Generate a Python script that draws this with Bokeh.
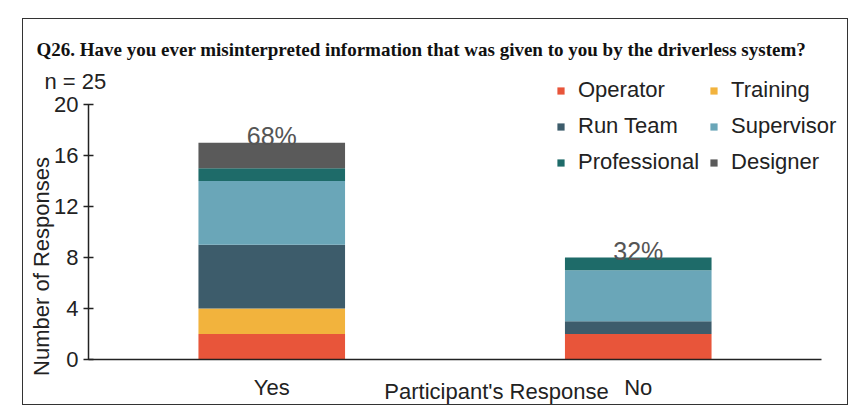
from bokeh.plotting import figure
from bokeh.models import (Range1d, FixedTicker, Label, Legend, LegendItem, ColumnDataSource)
from bokeh.core.properties import value
from bokeh.embed import file_html
from bokeh.resources import INLINE
import math

categories = ["Yes", "No"]
segments = ["Operator", "Training", "Run Team", "Supervisor", "Professional", "Designer"]
operator = [2, 2]
training = [2, 0]
run_team = [5, 1]
supervisor = [5, 4]
professional = [1, 1]
designer = [2, 0]
totals = [17, 8]
percent_labels = ["68%", "32%"]
y_ticks = [0, 4, 8, 12, 16, 20]

colors = ["#E8553A", "#F2B33D", "#3D5C6B", "#6AA6B8", "#1E6B69", "#5A5A5A"]
FONT = "Liberation Sans"
FS = "22px"

# category positions on a numeric axis: one unit per category, bar in the middle
xpos = [i + 0.5 for i in range(len(categories))]
src = ColumnDataSource(dict(x=xpos, cat=categories, Operator=operator, Training=training,
                            **{"Run Team": run_team}, Supervisor=supervisor,
                            Professional=professional, Designer=designer,
                            total=totals, pct=percent_labels))

# layout: canvas W x H; axis box inside the canvas (pixels from canvas top-left)
W, H = 826, 387
AX_L, AX_R, AX_T, AX_B = 65, 798, 85, 340
ymax = y_ticks[-1]
xmax = len(categories)
xu = (AX_R - AX_L) / xmax
yu = (AX_B - AX_T) / ymax
x_range = Range1d(-AX_L / xu, xmax + (W - AX_R) / xu)
y_range = Range1d(-(H - AX_B) / yu, ymax + AX_T / yu)

p = figure(width=W, height=H, x_range=x_range, y_range=y_range,
           output_backend="svg", toolbar_location=None,
           min_border=0, min_border_left=0, min_border_right=0, min_border_top=0,
           min_border_bottom=0, margin=(18, 0, 0, 22))
p.styles = {"border": "1.5px solid #333"}
p.outline_line_color = None
p.xgrid.grid_line_color = None
p.ygrid.grid_line_color = None

rs = p.vbar_stack(segments, x="x", width=0.4, color=colors, source=src, line_color=None)

pct = p.text(x="x", y="total", text="pct", source=src, text_align="center",
             text_baseline="bottom", y_offset=7, text_font=value(FONT),
             text_font_size="25px", text_color="#555555")
pct.level = "overlay"

p.yaxis.fixed_location = 0
p.yaxis.bounds = (0, ymax)
p.yaxis.ticker = FixedTicker(ticks=y_ticks)
p.yaxis.minor_tick_line_color = None
p.yaxis.major_tick_in = 5
p.yaxis.major_tick_out = 5
p.yaxis.major_label_standoff = 5

p.xaxis.fixed_location = 0
p.xaxis.bounds = (0, xmax)
p.xaxis.ticker = FixedTicker(ticks=xpos)
p.xaxis.major_label_overrides = {xv: c for xv, c in zip(xpos, categories)}
p.xaxis.minor_tick_line_color = None
p.xaxis.major_tick_line_color = None
p.xaxis.major_label_standoff = 9
for ax in (p.xaxis, p.yaxis):
    ax.axis_line_color = "#222222"
    ax.axis_line_width = 1.5
    ax.major_tick_line_width = 1.5
    ax.major_label_text_font = FONT
    ax.major_label_text_font_size = FS
    ax.major_label_text_color = "#222222"
p.yaxis.major_tick_line_color = "#222222"

ordered = [0, 2, 4, 1, 3, 5]
items = [LegendItem(label=segments[i], renderers=[rs[i]]) for i in ordered]
leg = Legend(items=items, ncols=2, location=(533, 231), orientation="vertical",
             glyph_width=9, glyph_height=9, label_standoff=13, spacing=10, label_height=20,
             label_text_font=FONT, label_text_font_size=FS, label_text_color="#222222",
             border_line_color=None, background_fill_alpha=0, padding=0, margin=0)
p.add_layout(leg, "center")

# screen units: from the canvas bottom-left (the plot frame fills the canvas)
title = Label(x=13, y=H - 30, x_units="screen", y_units="screen",
              text="Q26. Have you ever misinterpreted information that was given to you by the driverless system?",
              text_font="Liberation Serif", text_font_style="bold",
              text_font_size="19px", text_color="#111111", text_baseline="alphabetic")
p.add_layout(title)
n_lab = Label(x=21, y=H - 62, x_units="screen", y_units="screen", text="n = 25",
              text_font=FONT, text_font_size=FS, text_color="#222222",
              text_baseline="middle")
p.add_layout(n_lab)
ylab = Label(x=18, y=140, x_units="screen", y_units="screen", text="Number of Responses",
             angle=math.pi / 2, text_align="center", text_baseline="middle",
             text_font=FONT, text_font_size=FS, text_color="#222222")
p.add_layout(ylab)
xlab = Label(x=473, y=15, x_units="screen", y_units="screen", text="Participant's Response",
             text_align="center", text_baseline="middle",
             text_font=FONT, text_font_size=FS, text_color="#222222")
p.add_layout(xlab)

open("out.html", "w").write(file_html(p, INLINE))
